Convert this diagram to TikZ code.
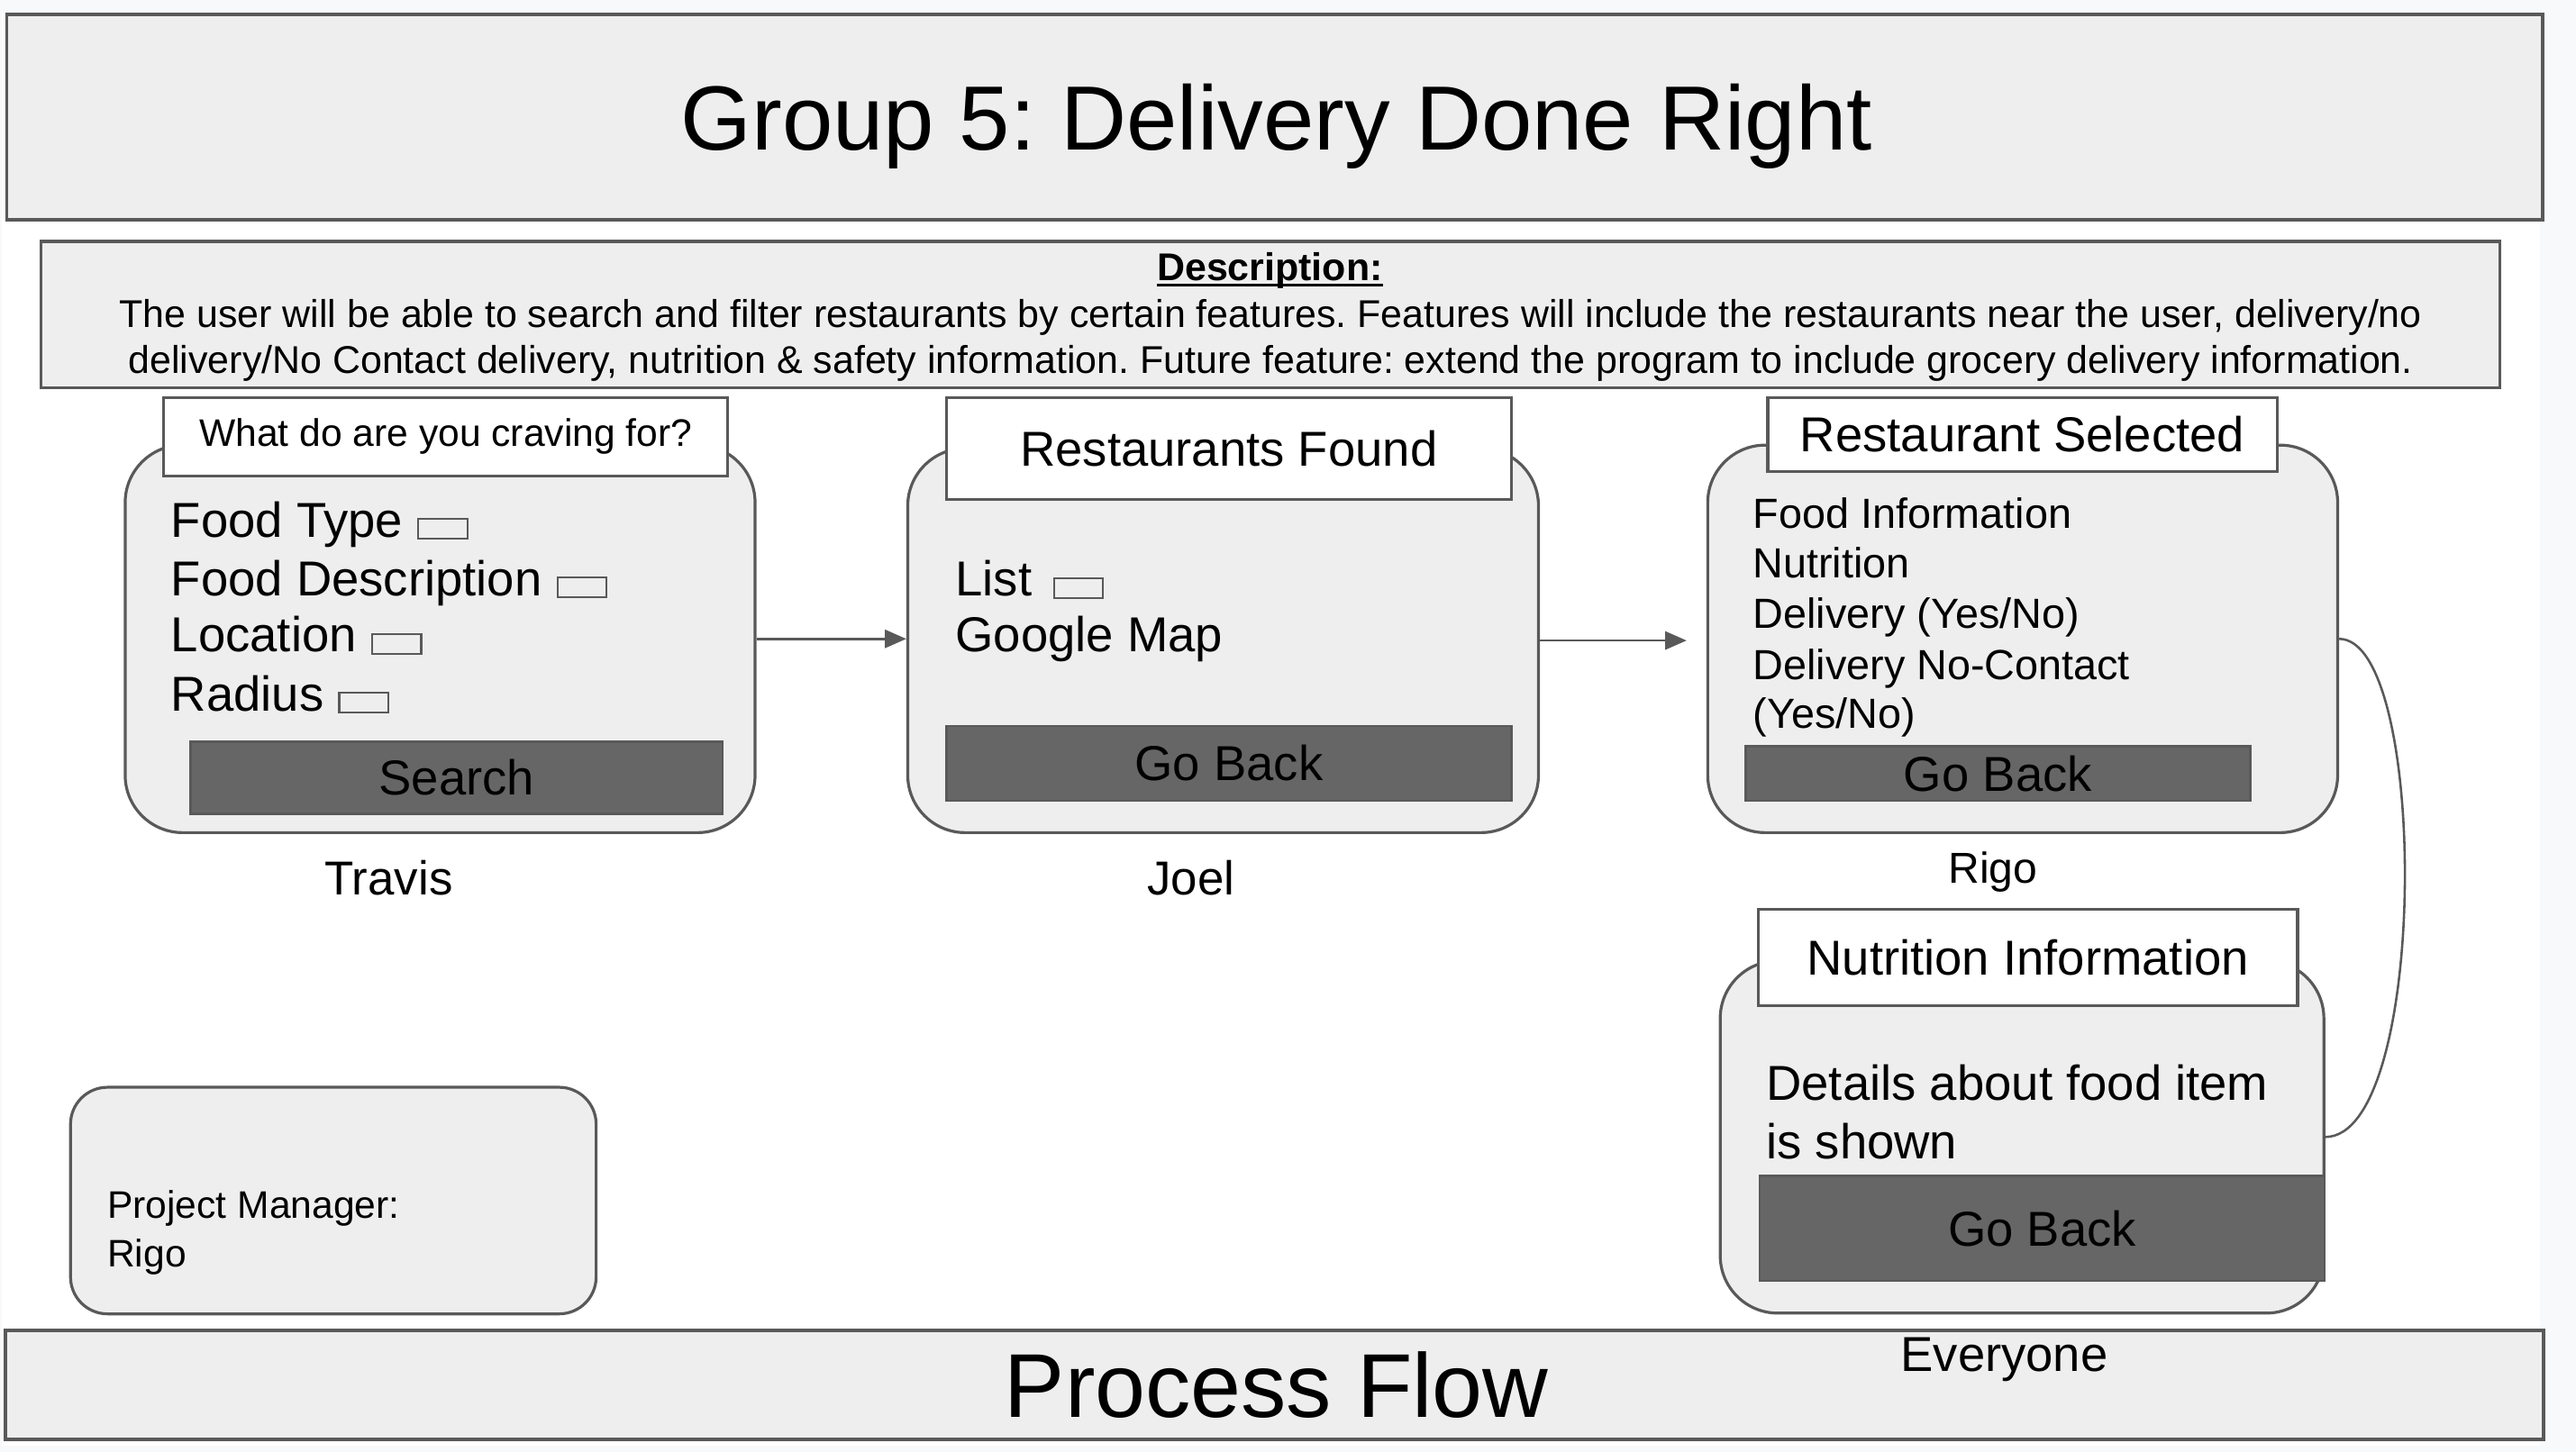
\documentclass[tikz,border=0pt]{standalone}
\usepackage{fontspec}
\setmainfont{Liberation Sans}
\usetikzlibrary{arrows.meta,positioning}
\frenchspacing
\definecolor{boxfill}{HTML}{EEEEEE}
\definecolor{boxline}{HTML}{595959}
\definecolor{btnfill}{HTML}{666666}
\definecolor{pagegray}{HTML}{F8F9FA}
\tikzset{
  every node/.style={inner sep=0pt},
  banner/.style={draw=boxline, fill=boxfill, line width=1.2pt},
  screen/.style={draw=boxline, fill=boxfill, line width=1pt, rounded corners=0.7cm},
  header/.style={draw=boxline, fill=white, line width=1pt, font=\fontsize{17}{20}\selectfont},
  button/.style={draw=boxline, fill=btnfill, line width=0.8pt, font=\fontsize{17}{20}\selectfont},
  item/.style={anchor=base west, font=\fontsize{17}{20}\selectfont},
  smallitem/.style={anchor=base west, font=\fontsize{14.6}{18}\selectfont},
  small/.style={font=\fontsize{13.3}{16}\selectfont},
  inbox/.style={draw=boxline, fill=boxfill, line width=0.7pt},
  who/.style={anchor=base, font=\fontsize{16.5}{20}\selectfont},
  flow/.style={-{Triangle[length=0.26cm,width=0.22cm]}, draw=boxline, line width=0.8pt},
  link/.style={draw=boxline, line width=0.8pt},
}
\begin{document}
\begin{tikzpicture}[x=0.02cm, y=-0.02cm]
  \useasboundingbox (0,0) rectangle (1568,884);
  \fill[pagegray] (0,0) rectangle (1568,884);
  \fill[white] (1,8) rectangle (1546,880);

  % title and description
  \node[banner, minimum width=30.88cm, minimum height=2.5cm] (title) at (776,71.5) {};
  \node[anchor=base, font=\fontsize{31.6}{38}\selectfont] (titletxt) at (777,91.4) {Group 5: Delivery Done Right};
  \node[banner, line width=1pt, minimum width=29.94cm, minimum height=1.78cm] (desc) at (773.5,191.5) {};
  \node[anchor=base, font=\fontsize{13.4}{16}\selectfont\bfseries] (desclabel) at (773,171) {Description:};
  \draw[line width=1.1pt] ([yshift=-0.05cm]desclabel.base west) -- ([yshift=-0.05cm]desclabel.base east);
  \node[anchor=base, font=\fontsize{13.4}{16}\selectfont] (descA) at (773.5,199.4) {The user will be able to search and filter restaurants by certain features. Features will include the restaurants near the user, delivery/no};
  \node[anchor=base, font=\fontsize{13.4}{16}\selectfont] (descB) at (773.5,227.6) {delivery/No Contact delivery, nutrition \& safety information. Future feature: extend the program to include grocery delivery information.};

  % search screen
  \node[screen, minimum width=7.67cm, minimum height=4.72cm] (travis) at (267.9,389) {};
  \node[header, small, minimum width=6.87cm, minimum height=0.95cm] (crave) at (271.3,265.9) {What do are you craving for?};
  \node[item] (ftype) at (103.8,327) {Food Type};
  \node[item] (fdesc) at (103.8,362.6) {Food Description};
  \node[item] (floc) at (103.8,397) {Location};
  \node[item] (frad) at (103.8,432.8) {Radius};
  \foreach \f in {ftype,fdesc,floc,frad}
    \draw[inbox] ([xshift=0.18cm,yshift=-0.02cm]\f.base east) rectangle ++(30,-12);
  \node[button, minimum width=6.48cm, minimum height=0.88cm] (search) at (277.9,473.5) {Search};
  \node[who] (travislbl) at (236.7,545) {Travis};

  % results screen
  \node[screen, minimum width=7.68cm, minimum height=4.68cm] (joel) at (744.5,390) {};
  \node[header, minimum width=6.88cm, minimum height=1.24cm] (found) at (748,273) {Restaurants Found};
  \node[item] (rlist) at (581.3,363) {List};
  \node[item] (rmap) at (581.3,397) {Google Map};
  \draw[inbox] ([xshift=0.26cm,yshift=-0.02cm]rlist.base east) rectangle ++(30,-12);
  \node[button, minimum width=6.88cm, minimum height=0.91cm] (back1) at (748,464.75) {Go Back};
  \node[who] (joellbl) at (725,545) {Joel};

  % selected screen
  \node[screen, minimum width=7.67cm, minimum height=4.72cm] (sel) at (1231.2,389) {};
  \node[header, minimum width=6.2cm, minimum height=0.9cm] (selhead) at (1231,264.5) {Restaurant Selected};
  \node[smallitem] (sfood) at (1066.7,321.7) {Food Information};
  \node[smallitem] (snutr) at (1066.7,352) {Nutrition};
  \node[smallitem] (sdel) at (1066.7,382.5) {Delivery (Yes/No)};
  \node[smallitem] (snoc) at (1066.7,414) {Delivery No-Contact};
  \node[smallitem] (syn) at (1066.7,443.5) {(Yes/No)};
  \node[button, minimum width=6.14cm, minimum height=0.66cm] (back2) at (1216.1,471) {Go Back};
  \node[who, font=\fontsize{15}{18}\selectfont] (rigolbl) at (1213,538) {Rigo};

  % nutrition screen
  \node[screen, minimum width=7.35cm, minimum height=4.29cm] (nut) at (1230.8,692.3) {};
  \node[header, minimum width=6.57cm, minimum height=1.17cm] (nuthead) at (1234.3,583) {Nutrition Information};
  \node[item] (ndet) at (1074.8,670) {Details about food item};
  \node[item] (nshow) at (1074.8,705.6) {is shown};
  \node[button, minimum width=6.88cm, minimum height=1.28cm] (back3) at (1243,748) {Go Back};

  % connectors
  \draw[flow] (travis.east) -- (travis.east -| joel.west);
  \draw[flow, shorten >=0.24cm] (joel.east) -- (joel.east -| sel.west);
  \draw[link] (sel.east) .. controls (1478.5,389) and (1478.5,692) .. (nut.east);

  % project manager
  \node[screen, rounded corners=0.45cm, minimum width=6.4cm, minimum height=2.76cm] (pm) at (202.9,731) {};
  \node[anchor=base west, small] (pmrole) at (65,742) {Project Manager:};
  \node[anchor=base west, small] (pmname) at (65,771.5) {Rigo};

  % footer
  \node[banner, minimum width=30.91cm, minimum height=1.33cm] (footer) at (775.8,843.3) {};
  \node[anchor=base, font=\fontsize{31.4}{38}\selectfont] (footertxt) at (777,863) {Process Flow};
  \node[who, font=\fontsize{17}{20}\selectfont] (everyone) at (1220,835) {Everyone};
\end{tikzpicture}
\end{document}
